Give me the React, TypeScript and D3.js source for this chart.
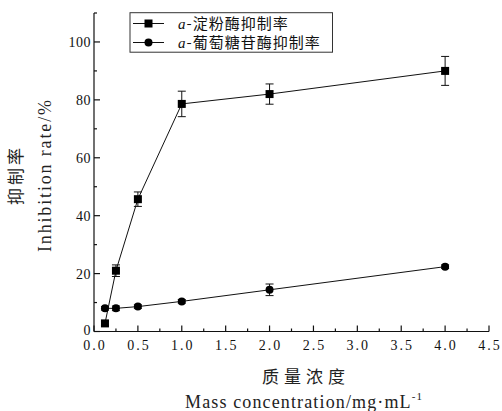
import React from "react";
import * as d3 from "d3";

const concentrations = [0.125, 0.25, 0.5, 1, 2, 4];
const amylaseRate = [2.8, 21.0, 45.7, 78.6, 82.0, 90.0];
const amylaseErr = [0.8, 2.0, 2.5, 4.4, 3.5, 5.0];
const glucosidaseRate = [8.0, 8.0, 8.6, 10.4, 14.4, 22.4];
const glucosidaseErr = [0.6, 0.8, 0.6, 0.6, 2.0, 0.6];
const xTicks = [0, 0.5, 1, 1.5, 2, 2.5, 3, 3.5, 4, 4.5];
const yTicks = [0, 20, 40, 60, 80, 100];
const legendLabels = ["-淀粉酶抑制率", "-葡萄糖苷酶抑制率"];

const W = 502;
const H = 411;
const left = 94;
const right = 489;
const top = 13;
const bottom = 331.5;

const serif = "'Liberation Serif', 'DejaVu Serif', serif";
const cjk = "'Noto Sans CJK SC', sans-serif";

export default function App() {
  const x = d3.scaleLinear().domain([0, 4.5]).range([left, right]);
  const y = d3.scaleLinear().domain([0, 110]).range([bottom, top]);
  const line = d3
    .line<[number, number]>()
    .x((d) => x(d[0]))
    .y((d) => y(d[1]));

  const s1: [number, number][] = concentrations.map((c, i) => [c, amylaseRate[i]]);
  const s2: [number, number][] = concentrations.map((c, i) => [c, glucosidaseRate[i]]);

  const minorX = d3.range(0.25, 4.5, 0.5);
  const minorY = [10, 30, 50, 70, 90, 110];

  const errorBars = (vals: number[], errs: number[], key: string) =>
    concentrations.map((c, i) => {
      const cx = x(c);
      const y1 = y(vals[i] + errs[i]);
      const y2 = y(vals[i] - errs[i]);
      return (
        <g key={key + i} stroke="#111" strokeWidth={1}>
          <line x1={cx} x2={cx} y1={y1} y2={y2} />
          <line x1={cx - 4} x2={cx + 4} y1={y1} y2={y1} />
          <line x1={cx - 4} x2={cx + 4} y1={y2} y2={y2} />
        </g>
      );
    });

  return (
    <svg width={W} height={H} style={{ position: "absolute", left: 0, top: 0, background: "#fff" }}>
      <rect width={W} height={H} fill="#fff" />
      {/* axes */}
      <g stroke="#111" strokeWidth={1.2} fill="none">
        <line x1={left} x2={left} y1={top} y2={bottom} />
        <line x1={left} x2={right} y1={bottom} y2={bottom} />
        {xTicks.map((t) => (
          <line key={"xt" + t} x1={x(t)} x2={x(t)} y1={bottom} y2={bottom - 6} />
        ))}
        {minorX.map((t) => (
          <line key={"xm" + t} x1={x(t)} x2={x(t)} y1={bottom} y2={bottom - 3} />
        ))}
        {yTicks.map((t) => (
          <line key={"yt" + t} x1={left} x2={left + 6} y1={y(t)} y2={y(t)} />
        ))}
        {minorY.map((t) => (
          <line key={"ym" + t} x1={left} x2={left + 3} y1={y(t)} y2={y(t)} />
        ))}
      </g>
      {/* tick labels */}
      <g style={{ fontFamily: serif, fontSize: 14 }} fill="#111">
        {xTicks.map((t) => (
          <text key={"xl" + t} x={x(t) + 1} y={bottom + 18} textAnchor="middle" letterSpacing={2}>
            {t.toFixed(1)}
          </text>
        ))}
        {yTicks.map((t) => (
          <text key={"yl" + t} x={left - 3} y={y(t) + (t === 0 ? 3 : 5)} textAnchor="end" letterSpacing={0.5}>
            {t}
          </text>
        ))}
      </g>
      {/* series */}
      <path d={line(s1) ?? ""} fill="none" stroke="#111" strokeWidth={1} />
      <path d={line(s2) ?? ""} fill="none" stroke="#111" strokeWidth={1} />
      {errorBars(amylaseRate, amylaseErr, "e1")}
      {errorBars(glucosidaseRate, glucosidaseErr, "e2")}
      {s1.map((d, i) => (
        <rect key={"m1" + i} x={x(d[0]) - 4} y={y(d[1]) - 4} width={8} height={8} fill="#000" />
      ))}
      {s2.map((d, i) => (
        <circle key={"m2" + i} cx={x(d[0])} cy={y(d[1])} r={4} fill="#000" />
      ))}
      {/* legend */}
      <rect x={130} y={12.7} width={202.5} height={39.5} fill="#fff" stroke="#333" strokeWidth={1} />
      {legendLabels.map((lab, i) => {
        const ly = 23.5 + i * 19;
        return (
          <g key={"lg" + i}>
            <line x1={133} x2={164} y1={ly} y2={ly} stroke="#111" strokeWidth={1} />
            {i === 0 ? (
              <rect x={144.5} y={ly - 4} width={8} height={8} fill="#000" />
            ) : (
              <circle cx={148.5} cy={ly} r={4} fill="#000" />
            )}
            <text x={178} y={ly + 5} fill="#111" letterSpacing={1} style={{ fontSize: 15 }}>
              <tspan style={{ fontFamily: serif, fontStyle: "italic" }}>a</tspan>
              <tspan style={{ fontFamily: cjk }}>{lab}</tspan>
            </text>
          </g>
        );
      })}
      {/* axis titles */}
      <g transform={`translate(22,175) rotate(-90)`}>
        <text textAnchor="middle" fill="#222" letterSpacing={3} style={{ fontFamily: cjk, fontSize: 17 }}>
          抑制率
        </text>
      </g>
      <g transform={`translate(51,176) rotate(-90)`}>
        <text
          textAnchor="middle"
          fill="#222"
          textLength={152}
          lengthAdjust="spacing"
          style={{ fontFamily: serif, fontSize: 18 }}
        >
          Inhibition  rate/%
        </text>
      </g>
      <text x={306} y={383} textAnchor="middle" fill="#222" letterSpacing={5} style={{ fontFamily: cjk, fontSize: 17 }}>
        质量浓度
      </text>
      <text x={185} y={408} fill="#222" textLength={237} lengthAdjust="spacing" style={{ fontFamily: serif, fontSize: 18 }}>
        Mass  concentration/mg·mL
        <tspan dy={-8} style={{ fontSize: 11 }}>-1</tspan>
      </text>
    </svg>
  );
}
